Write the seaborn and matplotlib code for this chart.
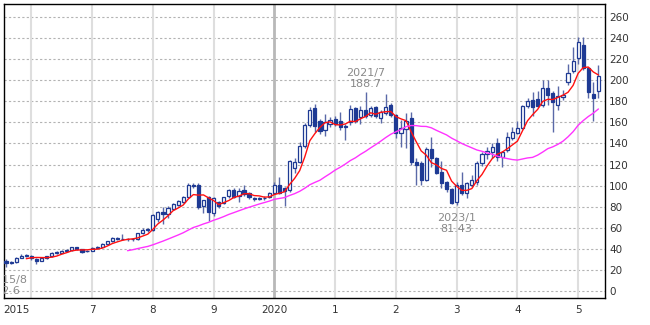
import numpy as np
import pandas as pd
import matplotlib
matplotlib.use("Agg")
import matplotlib.pyplot as plt
import matplotlib.transforms as mtransforms
import seaborn as sns

# Monthly OHLC, starting 2015/8
open_ = [28, 26.5, 27, 31.5, 33.5, 33.5, 30, 28.5, 31, 33,
         36, 36, 37.5, 38.5, 41.5, 39.5, 37.5, 38, 41, 42,
         44.5, 47, 50, 49, 49.5, 49, 49.2, 54.5, 58, 58,
         68, 75, 72.5, 78, 81.5, 84.5, 89, 101, 100.5, 80.5,
         89, 74, 84, 83, 89.6, 96, 89.6, 95.5, 93, 88,
         87.5, 88, 89.5, 93, 100.5, 97.5, 96, 117, 122.5, 137.5,
         158, 174, 161, 153, 158.5, 163.5, 161.5, 157, 160, 173.5,
         165, 171.5, 167, 174.5, 164, 169, 177, 167, 150, 153.5,
         164, 122.5, 121.7, 105.5, 135, 126.5, 113, 103.6, 97, 84.6,
         101, 93, 101, 103, 121, 130, 132, 140, 127, 134,
         145, 150, 155, 176, 181, 182, 177, 193, 188, 177,
         184, 198, 209, 221.5, 234, 212, 187, 190]
high = [30, 28, 32, 34.5, 35, 34, 31.5, 31.5, 33.5, 37,
        37.5, 38.5, 39.5, 42, 42, 40, 39, 41.5, 42.5, 45,
        47.5, 51, 51, 54, 50, 50.5, 55, 59.5, 60, 73,
        76, 80, 81, 83, 86, 90.5, 102, 102.5, 102, 86.5,
        90, 89, 85.5, 89.5, 97, 97.5, 98, 101, 94, 89.5,
        89.5, 90, 94, 103, 108, 99, 124, 126, 141, 159,
        174.5, 178, 163, 168, 165, 166, 170, 158.5, 176.5, 175,
        176, 188.7, 175.5, 176, 171.5, 187, 178.5, 168, 162.5, 169,
        170, 126, 123, 137, 146.5, 127.5, 123, 104.5, 98, 103,
        113, 103.5, 110, 123, 131.5, 137, 140, 145.5, 133, 151,
        156, 161, 177, 183.5, 189, 190, 200.5, 200.5, 189.5, 195,
        191, 215.5, 232, 241, 241.5, 213, 198, 214.5]
low = [22.6, 25.5, 26.5, 31, 32.5, 29, 25, 28, 30, 32.5,
       35, 35.5, 37, 38, 38.5, 36, 36.5, 37.5, 40.5, 41.5,
       44, 46.5, 48, 48, 47.5, 47.5, 48.5, 54, 56, 57,
       65, 63, 69, 76.5, 81, 83.5, 88, 97.5, 78, 73.5,
       66, 71, 79, 82, 88.5, 88.5, 84, 90, 87.5, 85.5,
       86, 86.5, 88.5, 92, 92, 81, 94, 112, 121, 136,
       156, 151, 149, 147, 156, 157, 153, 143.5, 158, 159,
       158.5, 164, 165, 164.5, 159, 167, 165, 145, 137, 136,
       120, 101, 101, 104, 118, 111, 97.6, 94, 82, 81.43,
       91, 88, 99, 101, 119, 125, 126, 123, 118, 132,
       143.5, 149, 154, 174, 166, 175, 175, 177, 151, 172,
       181.5, 196, 207, 216, 210, 183, 161, 183]
close = [26.5, 27, 31.5, 33.5, 33.8, 31, 28.5, 31, 33, 36,
         36.3, 37.5, 38.5, 41.5, 39.5, 37, 38, 41, 42, 44.5,
         47, 50, 49, 49.3, 49, 49.2, 54.5, 58, 58.3, 72,
         75, 72.5, 79, 82, 85, 89, 101, 100, 79.5, 86,
         75, 88, 81, 89, 96, 89.5, 94.4, 92, 89.5, 87,
         88, 88.5, 93, 101, 93, 95, 123, 122, 138, 158,
         172, 157, 151.5, 160, 162.5, 158.5, 155.6, 156, 173, 161,
         172, 166, 174, 166, 170, 175, 167, 150, 155, 161.5,
         122.5, 120, 105.5, 135, 126, 112, 102.7, 97, 83.6, 101,
         93, 102.5, 105.5, 121.7, 130, 133, 137, 127, 132, 146,
         151, 155, 176, 180, 175, 176, 193, 186, 179, 185,
         186.5, 207, 218.6, 236.7, 212, 189, 183.5, 204.6]

first_month = "2015-08"
tick_months = ["2015-08", "2017-01", "2018-01", "2019-01", "2020-01",
               "2021-01", "2022-01", "2023-01", "2024-01", "2025-01"]
tick_labels = ["2015", "7", "8", "9", "2020", "1", "2", "3", "4", "5"]
grid_months = ["2016-01"] + tick_months[1:]

# Marked extremes: (month, value, placement)
marks = [("2015-08", 22.6, "below"),
         ("2021-07", 188.7, "above"),
         ("2023-01", 81.43, "below")]

short_window, long_window = 5, 25

months = pd.period_range(first_month, periods=len(close), freq="M")
df = pd.DataFrame({"month": months, "open": open_, "high": high,
                   "low": low, "close": close})
df["pos"] = np.arange(len(df))
df["ma_short"] = df["close"].rolling(short_window).mean()
df["ma_long"] = df["close"].rolling(long_window).mean()
pos_of = {str(m): i for i, m in enumerate(months)}

sns.set_style("white")
plt.rcParams["font.family"] = ["DejaVu Sans"]

fig = plt.figure(figsize=(6.5, 3.25), dpi=100)
ax = fig.add_axes([4 / 650, 1 - 298 / 325, 601 / 650, 294 / 325])

NAVY = "#1e3a94"
WICK = "#5a69a8"

# grid
for v in range(0, 261, 20):
    ax.axhline(v, color="#b3b3b3", lw=0.8, ls=(0, (2, 2)), zorder=0)
for m in grid_months:
    if m == "2020-01":
        ax.axvline(pos_of[m], color="#b8b8b8", lw=2.0, zorder=0)
    else:
        ax.axvline(pos_of[m], color="#dedede", lw=1.5, zorder=0)

# candles
ax.vlines(df["pos"], df["low"], df["high"], color=WICK, lw=1.0, zorder=2)
up = df["close"] >= df["open"]
body_lo = np.minimum(df["open"], df["close"])
body_h = np.maximum(np.abs(df["close"] - df["open"]), 0.4)
ax.bar(df["pos"][up], body_h[up], bottom=body_lo[up], width=0.62,
       color="white", edgecolor=NAVY, linewidth=0.9, zorder=3)
ax.bar(df["pos"][~up], body_h[~up], bottom=body_lo[~up], width=0.62,
       color=NAVY, edgecolor=NAVY, linewidth=0.9, zorder=3)

# moving averages
sns.lineplot(data=df, x="pos", y="ma_short", color="#ff1010", lw=1.0,
             ax=ax, zorder=4)
sns.lineplot(data=df, x="pos", y="ma_long", color="#ff33ff", lw=1.0,
             ax=ax, zorder=4)

# extreme labels (the first one sits at the plot edge and is clipped)
for m, v, where in marks:
    p = pos_of[m]
    txt = f"{m[:4]}/{int(m[5:])}\n{v:g}"
    dx = 2 if p == 0 else 0
    if where == "above":
        t = ax.annotate(txt, (p, v), xytext=(dx, 3), textcoords="offset pixels",
                        ha="center", va="bottom", fontsize=8, color="#8a8a8a",
                        linespacing=1.1)
    else:
        t = ax.annotate(txt, (p, v), xytext=(dx, -8), textcoords="offset pixels",
                        ha="center", va="top", fontsize=8, color="#8a8a8a",
                        linespacing=1.1)
    t.set_clip_on(True)
    t.set_clip_path(ax.patch)

ax.set_xlim(-0.4, 118.3)
ax.set_ylim(-6.9, 272.6)
ax.set_xlabel("")
ax.set_ylabel("")

ax.set_xticks([pos_of[m] for m in tick_months])
ax.set_xticklabels(tick_labels)
ax.yaxis.tick_right()
ax.set_yticks(range(0, 261, 20))
ax.tick_params(axis="x", length=3, width=0.8, color="#333333", pad=2,
               labelsize=7.5, labelcolor="#333333")
ax.tick_params(axis="y", length=0, pad=3, labelsize=7.5, labelcolor="#333333")

for s in ax.spines.values():
    s.set_color("black")
    s.set_linewidth(1.0)
    s.set_visible(True)

# first year label starts at the left edge instead of being centred
first_lbl = ax.get_xticklabels()[0]
first_lbl.set_ha("left")
first_lbl.set_transform(first_lbl.get_transform() +
                        mtransforms.ScaledTranslation(-3 / 100, 0, fig.dpi_scale_trans))

fig.savefig("out.png", dpi=100)
